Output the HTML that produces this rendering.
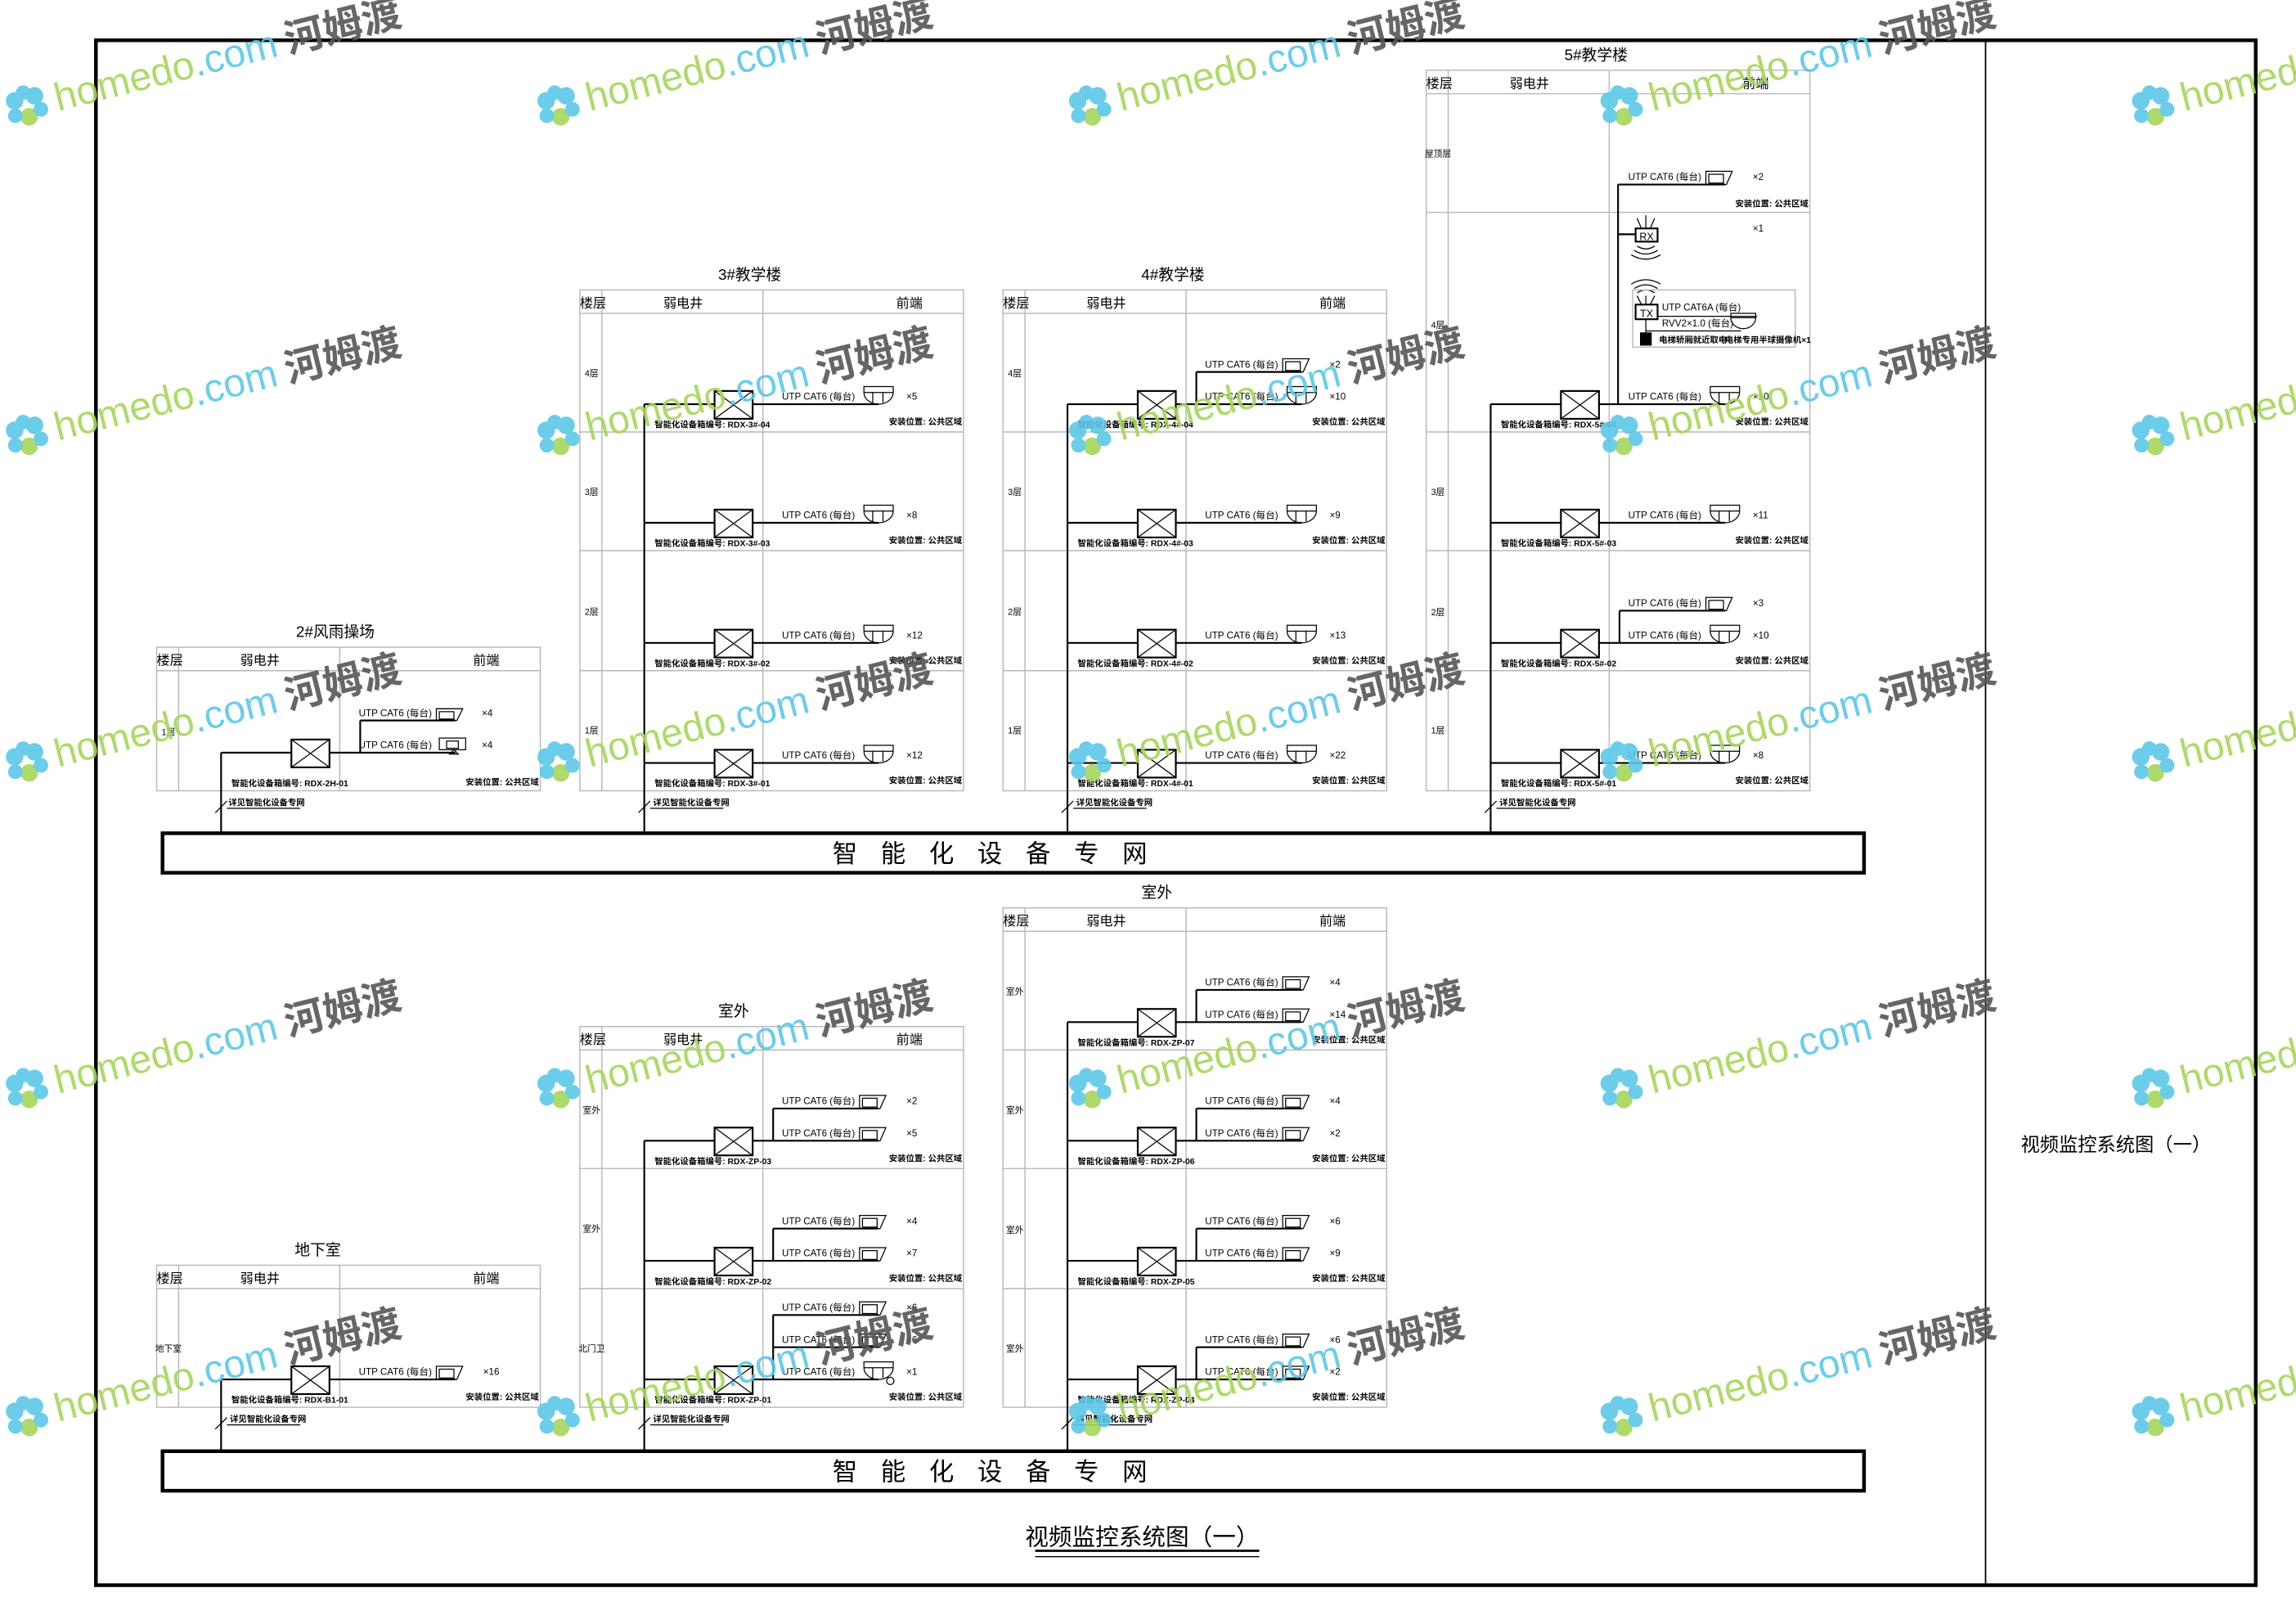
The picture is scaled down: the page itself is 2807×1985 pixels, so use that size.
<!DOCTYPE html>
<html><head><meta charset="utf-8"><style>
html,body{margin:0;padding:0;background:#fff}
svg{display:block}
text{font-family:"Liberation Sans","Noto Sans CJK SC",sans-serif;fill:#000}
.t{stroke:#b8b8b8;stroke-width:0.8;fill:none}
.l{stroke:#000;stroke-width:1.2;fill:none}
.th{stroke:#000;stroke-width:0.7;fill:none}
.bx{stroke:#000;stroke-width:1.2;fill:#fff}
.u{font-size:6.5px}
.s{font-size:5.8px;font-weight:bold}
.h{font-size:9px}
.f{font-size:6px;text-anchor:middle}
.ti{font-size:10.5px;text-anchor:middle}
.wm{font-size:27px}
.g1{fill:#a5d65a}.g2{fill:#5bc8e8}.g3{fill:#555;font-weight:bold;font-family:"Noto Sans CJK SC",sans-serif}
</style></head><body>
<svg width="2807" height="1985" viewBox="0 0 1568 1109" preserveAspectRatio="none" xmlns="http://www.w3.org/2000/svg">
<defs>
<g id="fl"><circle cx="-7" cy="-5" r="6" fill="#5bc8e8"/><circle cx="7" cy="-5" r="6" fill="#5bc8e8"/><circle cx="0" cy="8" r="6" fill="#a5d65a"/><circle cx="-9" cy="5" r="5" fill="#5bc8e8"/><circle cx="9" cy="5" r="5" fill="#5bc8e8"/><circle cx="0" cy="-9" r="5" fill="#5bc8e8"/></g>
</defs>
<rect x="0" y="0" width="1568" height="1109" fill="#fff"/>
<rect x="65.5" y="27.5" width="1475" height="1055" fill="none" stroke="#000" stroke-width="2.5"/>
<line x1="1356" y1="28" x2="1356" y2="1082" stroke="#000" stroke-width="1"/>
<text x="1445" y="786" font-size="13" text-anchor="middle">视频监控系统图（一）</text>

<rect x="111" y="569" width="1162" height="27" fill="none" stroke="#000" stroke-width="2.5"/>
<text x="684" y="589" font-size="17" text-anchor="middle" letter-spacing="16">智能化设备专网</text>
<rect x="111" y="991" width="1162" height="27" fill="none" stroke="#000" stroke-width="2.5"/>
<text x="684" y="1011" font-size="17" text-anchor="middle" letter-spacing="16">智能化设备专网</text>
<text x="780" y="1055" font-size="16" text-anchor="middle">视频监控系统图（一）</text>
<line x1="707" y1="1059" x2="860" y2="1059" stroke="#000" stroke-width="1.5"/>
<line x1="707" y1="1063" x2="860" y2="1063" stroke="#000" stroke-width="0.8"/>

<!-- 2# -->
<g transform="translate(107,442)">
<text class="ti" x="122" y="-7">2#风雨操场</text>
<rect class="t" x="0" y="0" width="262" height="98"/><path class="t" d="M0,16H262M15,0V98M125,0V98"/>
<text class="h" x="0" y="12">楼层</text><text class="h" x="57" y="12">弱电井</text><text class="h" x="216" y="12">前端</text>
<text class="f" x="8" y="60">1层</text>
</g>
<path class="l" d="M151,514V569"/>
<path class="th" d="M147,555L155,547M155,552H205"/><text class="s" x="156" y="550">详见智能化设备专网</text>
<g transform="translate(107,540)">
<path class="l" d="M44,-26H92M118,-26H139M139,-48V-26H204M139,-48H204"/>
<rect class="bx" x="92" y="-35" width="26" height="19"/><path class="th" d="M92,-35L118,-16M118,-35L92,-16"/>
<text class="s" x="51" y="-3">智能化设备箱编号: RDX-2H-01</text>
<text class="s" x="261" y="-4" text-anchor="end">安装位置: 公共区域</text>
<text class="u" x="138" y="-51">UTP CAT6 (每台)</text><path class="th" d="M191,-56h18l-4,8h-14zM193,-54h10v5h-10z"/><text class="u" x="222" y="-51">×4</text>
<text class="u" x="138" y="-29">UTP CAT6 (每台)</text><path class="th" d="M193,-36h18v8h-18zM198,-34h8v5h-8zM200,-25l3,-3l3,3z"/><text class="u" x="222" y="-29">×4</text>
</g>

<!-- 3# -->
<g transform="translate(396,198)">
<text class="ti" x="116" y="-7">3#教学楼</text>
<rect class="t" x="0" y="0" width="262" height="342"/><path class="t" d="M0,16H262M15,0V342M125,0V342M0,97H262M0,178H262M0,260H262"/>
<text class="h" x="0" y="12">楼层</text><text class="h" x="57" y="12">弱电井</text><text class="h" x="216" y="12">前端</text>
<text class="f" x="8" y="59">4层</text><text class="f" x="8" y="140">3层</text><text class="f" x="8" y="222">2层</text><text class="f" x="8" y="303">1层</text>
</g>
<path class="l" d="M440,276V569"/>
<path class="th" d="M436,555L444,547M444,552H494"/><text class="s" x="446" y="550">详见智能化设备专网</text>
<g transform="translate(396,295)">
<path class="l" d="M44,-19H92M118,-19H204"/><rect class="bx" x="92" y="-28" width="26" height="19"/><path class="th" d="M92,-28L118,-9M118,-28L92,-9"/>
<text class="s" x="51" y="-3">智能化设备箱编号: RDX-3#-04</text><text class="s" x="261" y="-5" text-anchor="end">安装位置: 公共区域</text>
<text class="u" x="138" y="-22">UTP CAT6 (每台)</text><path class="th" d="M194,-31h20v4h-20zM194,-27a10,8 0 0 0 20,0M200,-27v7M207,-27v7"/><text class="u" x="223" y="-22">×5</text>
</g>
<g transform="translate(396,376)">
<path class="l" d="M44,-19H92M118,-19H204"/><rect class="bx" x="92" y="-28" width="26" height="19"/><path class="th" d="M92,-28L118,-9M118,-28L92,-9"/>
<text class="s" x="51" y="-3">智能化设备箱编号: RDX-3#-03</text><text class="s" x="261" y="-5" text-anchor="end">安装位置: 公共区域</text>
<text class="u" x="138" y="-22">UTP CAT6 (每台)</text><path class="th" d="M194,-31h20v4h-20zM194,-27a10,8 0 0 0 20,0M200,-27v7M207,-27v7"/><text class="u" x="223" y="-22">×8</text>
</g>
<g transform="translate(396,458)">
<path class="l" d="M44,-19H92M118,-19H204"/><rect class="bx" x="92" y="-28" width="26" height="19"/><path class="th" d="M92,-28L118,-9M118,-28L92,-9"/>
<text class="s" x="51" y="-3">智能化设备箱编号: RDX-3#-02</text><text class="s" x="261" y="-5" text-anchor="end">安装位置: 公共区域</text>
<text class="u" x="138" y="-22">UTP CAT6 (每台)</text><path class="th" d="M194,-31h20v4h-20zM194,-27a10,8 0 0 0 20,0M200,-27v7M207,-27v7"/><text class="u" x="223" y="-22">×12</text>
</g>
<g transform="translate(396,540)">
<path class="l" d="M44,-19H92M118,-19H204"/><rect class="bx" x="92" y="-28" width="26" height="19"/><path class="th" d="M92,-28L118,-9M118,-28L92,-9"/>
<text class="s" x="51" y="-3">智能化设备箱编号: RDX-3#-01</text><text class="s" x="261" y="-5" text-anchor="end">安装位置: 公共区域</text>
<text class="u" x="138" y="-22">UTP CAT6 (每台)</text><path class="th" d="M194,-31h20v4h-20zM194,-27a10,8 0 0 0 20,0M200,-27v7M207,-27v7"/><text class="u" x="223" y="-22">×12</text>
</g>

<!-- 4# -->
<g transform="translate(685,198)">
<text class="ti" x="116" y="-7">4#教学楼</text>
<rect class="t" x="0" y="0" width="262" height="342"/><path class="t" d="M0,16H262M15,0V342M125,0V342M0,97H262M0,178H262M0,260H262"/>
<text class="h" x="0" y="12">楼层</text><text class="h" x="57" y="12">弱电井</text><text class="h" x="216" y="12">前端</text>
<text class="f" x="8" y="59">4层</text><text class="f" x="8" y="140">3层</text><text class="f" x="8" y="222">2层</text><text class="f" x="8" y="303">1层</text>
</g>
<path class="l" d="M729,276V569"/>
<path class="th" d="M725,555L733,547M733,552H783"/><text class="s" x="735" y="550">详见智能化设备专网</text>
<g transform="translate(685,295)">
<path class="l" d="M44,-19H92M118,-19H132M132,-41V-19H204M132,-41H204"/><rect class="bx" x="92" y="-28" width="26" height="19"/><path class="th" d="M92,-28L118,-9M118,-28L92,-9"/>
<text class="s" x="51" y="-3">智能化设备箱编号: RDX-4#-04</text><text class="s" x="261" y="-5" text-anchor="end">安装位置: 公共区域</text>
<text class="u" x="138" y="-44">UTP CAT6 (每台)</text><path class="th" d="M191,-50h18l-4,9h-14zM193,-48h10v6h-10z"/><text class="u" x="223" y="-44">×2</text>
<text class="u" x="138" y="-22">UTP CAT6 (每台)</text><path class="th" d="M194,-31h20v4h-20zM194,-27a10,8 0 0 0 20,0M200,-27v7M207,-27v7"/><text class="u" x="223" y="-22">×10</text>
</g>
<g transform="translate(685,376)">
<path class="l" d="M44,-19H92M118,-19H204"/><rect class="bx" x="92" y="-28" width="26" height="19"/><path class="th" d="M92,-28L118,-9M118,-28L92,-9"/>
<text class="s" x="51" y="-3">智能化设备箱编号: RDX-4#-03</text><text class="s" x="261" y="-5" text-anchor="end">安装位置: 公共区域</text>
<text class="u" x="138" y="-22">UTP CAT6 (每台)</text><path class="th" d="M194,-31h20v4h-20zM194,-27a10,8 0 0 0 20,0M200,-27v7M207,-27v7"/><text class="u" x="223" y="-22">×9</text>
</g>
<g transform="translate(685,458)">
<path class="l" d="M44,-19H92M118,-19H204"/><rect class="bx" x="92" y="-28" width="26" height="19"/><path class="th" d="M92,-28L118,-9M118,-28L92,-9"/>
<text class="s" x="51" y="-3">智能化设备箱编号: RDX-4#-02</text><text class="s" x="261" y="-5" text-anchor="end">安装位置: 公共区域</text>
<text class="u" x="138" y="-22">UTP CAT6 (每台)</text><path class="th" d="M194,-31h20v4h-20zM194,-27a10,8 0 0 0 20,0M200,-27v7M207,-27v7"/><text class="u" x="223" y="-22">×13</text>
</g>
<g transform="translate(685,540)">
<path class="l" d="M44,-19H92M118,-19H204"/><rect class="bx" x="92" y="-28" width="26" height="19"/><path class="th" d="M92,-28L118,-9M118,-28L92,-9"/>
<text class="s" x="51" y="-3">智能化设备箱编号: RDX-4#-01</text><text class="s" x="261" y="-5" text-anchor="end">安装位置: 公共区域</text>
<text class="u" x="138" y="-22">UTP CAT6 (每台)</text><path class="th" d="M194,-31h20v4h-20zM194,-27a10,8 0 0 0 20,0M200,-27v7M207,-27v7"/><text class="u" x="223" y="-22">×22</text>
</g>

<!-- 5# -->
<g transform="translate(974,48)">
<text class="ti" x="116" y="-7">5#教学楼</text>
<rect class="t" x="0" y="0" width="262" height="492"/><path class="t" d="M0,16H262M15,0V492M125,0V492M0,97H262M0,247H262M0,328H262M0,410H262"/>
<text class="h" x="0" y="12">楼层</text><text class="h" x="57" y="12">弱电井</text><text class="h" x="216" y="12">前端</text>
<text class="f" x="8" y="59">屋顶层</text><text class="f" x="8" y="176">4层</text><text class="f" x="8" y="290">3层</text><text class="f" x="8" y="372">2层</text><text class="f" x="8" y="453">1层</text>
</g>
<path class="l" d="M1018,276V569"/>
<path class="th" d="M1014,555L1022,547M1022,552H1072"/><text class="s" x="1024" y="550">详见智能化设备专网</text>
<g transform="translate(974,0)">
<path class="l" d="M131,126V276M131,126H204M131,160H143"/>
<text class="u" x="138" y="123">UTP CAT6 (每台)</text><path class="th" d="M191,117h18l-4,9h-14zM193,119h10v6h-10z"/><text class="u" x="223" y="123">×2</text>
<text class="s" x="261" y="141" text-anchor="end">安装位置: 公共区域</text>
<rect class="bx" x="143" y="156" width="15" height="9"/><text x="150.5" y="164" font-size="7" text-anchor="middle">RX</text>
<path class="th" d="M150,156V147M147,156L144,149M153,156L156,149"/>
<path class="th" d="M144,168q6,4 12,0M142,171q8,5 16,0M140,174q10,6 20,0"/>
<path class="th" d="M144,200q6,-4 12,0M142,197q8,-5 16,0M140,194q10,-6 20,0"/>
<rect class="t" x="141" y="198" width="111" height="39"/>
<rect class="bx" x="143" y="208" width="15" height="10"/><text x="150.5" y="216.5" font-size="7" text-anchor="middle">TX</text>
<path class="th" d="M150,208V202M147,208L144,202M153,208L156,202"/>
<path class="th" d="M158,216H226M150,218V226H215M150,226V232M208,214h17v3h-17zM208,217a8,7 0 0 0 17,0"/>
<rect x="146" y="227" width="8" height="9" fill="#000"/>
<text class="u" x="161" y="212">UTP CAT6A (每台)</text>
<text class="u" x="161" y="223">RVV2×1.0 (每台)</text>
<text class="s" x="159" y="234">电梯轿厢就近取电</text>
<text class="s" x="204" y="234">电梯专用半球摄像机×1</text>
<text class="u" x="223" y="158">×1</text>
</g>
<g transform="translate(974,295)">
<path class="l" d="M44,-19H92M118,-19H204"/><rect class="bx" x="92" y="-28" width="26" height="19"/><path class="th" d="M92,-28L118,-9M118,-28L92,-9"/>
<text class="s" x="51" y="-3">智能化设备箱编号: RDX-5#-04</text><text class="s" x="261" y="-5" text-anchor="end">安装位置: 公共区域</text>
<text class="u" x="138" y="-22">UTP CAT6 (每台)</text><path class="th" d="M194,-31h20v4h-20zM194,-27a10,8 0 0 0 20,0M200,-27v7M207,-27v7"/><text class="u" x="223" y="-22">×10</text>
</g>
<g transform="translate(974,376)">
<path class="l" d="M44,-19H92M118,-19H204"/><rect class="bx" x="92" y="-28" width="26" height="19"/><path class="th" d="M92,-28L118,-9M118,-28L92,-9"/>
<text class="s" x="51" y="-3">智能化设备箱编号: RDX-5#-03</text><text class="s" x="261" y="-5" text-anchor="end">安装位置: 公共区域</text>
<text class="u" x="138" y="-22">UTP CAT6 (每台)</text><path class="th" d="M194,-31h20v4h-20zM194,-27a10,8 0 0 0 20,0M200,-27v7M207,-27v7"/><text class="u" x="223" y="-22">×11</text>
</g>
<g transform="translate(974,458)">
<path class="l" d="M44,-19H92M118,-19H132M132,-41V-19H204M132,-41H204"/><rect class="bx" x="92" y="-28" width="26" height="19"/><path class="th" d="M92,-28L118,-9M118,-28L92,-9"/>
<text class="s" x="51" y="-3">智能化设备箱编号: RDX-5#-02</text><text class="s" x="261" y="-5" text-anchor="end">安装位置: 公共区域</text>
<text class="u" x="138" y="-44">UTP CAT6 (每台)</text><path class="th" d="M191,-50h18l-4,9h-14zM193,-48h10v6h-10z"/><text class="u" x="223" y="-44">×3</text>
<text class="u" x="138" y="-22">UTP CAT6 (每台)</text><path class="th" d="M194,-31h20v4h-20zM194,-27a10,8 0 0 0 20,0M200,-27v7M207,-27v7"/><text class="u" x="223" y="-22">×10</text>
</g>
<g transform="translate(974,540)">
<path class="l" d="M44,-19H92M118,-19H204"/><rect class="bx" x="92" y="-28" width="26" height="19"/><path class="th" d="M92,-28L118,-9M118,-28L92,-9"/>
<text class="s" x="51" y="-3">智能化设备箱编号: RDX-5#-01</text><text class="s" x="261" y="-5" text-anchor="end">安装位置: 公共区域</text>
<text class="u" x="138" y="-22">UTP CAT6 (每台)</text><path class="th" d="M194,-31h20v4h-20zM194,-27a10,8 0 0 0 20,0M200,-27v7M207,-27v7"/><text class="u" x="223" y="-22">×8</text>
</g>

<!-- 室外 right -->
<g transform="translate(685,620)">
<text class="ti" x="105" y="-7">室外</text>
<rect class="t" x="0" y="0" width="262" height="341"/><path class="t" d="M0,16H262M15,0V341M125,0V341M0,97H262M0,178H262M0,260H262"/>
<text class="h" x="0" y="12">楼层</text><text class="h" x="57" y="12">弱电井</text><text class="h" x="216" y="12">前端</text>
<text class="f" x="8" y="59">室外</text><text class="f" x="8" y="140">室外</text><text class="f" x="8" y="222">室外</text><text class="f" x="8" y="303">室外</text>
</g>
<path class="l" d="M729,698V991"/>
<path class="th" d="M725,976L733,968M733,973H783"/><text class="s" x="735" y="971">详见智能化设备专网</text>
<g transform="translate(685,717)">
<path class="l" d="M44,-19H92M118,-19H132M132,-41V-19H204M132,-41H204"/><rect class="bx" x="92" y="-28" width="26" height="19"/><path class="th" d="M92,-28L118,-9M118,-28L92,-9"/>
<text class="s" x="51" y="-3">智能化设备箱编号: RDX-ZP-07</text><text class="s" x="261" y="-5" text-anchor="end">安装位置: 公共区域</text>
<text class="u" x="138" y="-44">UTP CAT6 (每台)</text><path class="th" d="M191,-50h18l-4,9h-14zM193,-48h10v6h-10z"/><text class="u" x="223" y="-44">×4</text>
<text class="u" x="138" y="-22">UTP CAT6 (每台)</text><path class="th" d="M191,-28h18l-4,9h-14zM193,-26h10v6h-10z"/><text class="u" x="223" y="-22">×14</text>
</g>
<g transform="translate(685,798)">
<path class="l" d="M44,-19H92M118,-19H132M132,-41V-19H204M132,-41H204"/><rect class="bx" x="92" y="-28" width="26" height="19"/><path class="th" d="M92,-28L118,-9M118,-28L92,-9"/>
<text class="s" x="51" y="-3">智能化设备箱编号: RDX-ZP-06</text><text class="s" x="261" y="-5" text-anchor="end">安装位置: 公共区域</text>
<text class="u" x="138" y="-44">UTP CAT6 (每台)</text><path class="th" d="M191,-50h18l-4,9h-14zM193,-48h10v6h-10z"/><text class="u" x="223" y="-44">×4</text>
<text class="u" x="138" y="-22">UTP CAT6 (每台)</text><path class="th" d="M191,-28h18l-4,9h-14zM193,-26h10v6h-10z"/><text class="u" x="223" y="-22">×2</text>
</g>
<g transform="translate(685,880)">
<path class="l" d="M44,-19H92M118,-19H132M132,-41V-19H204M132,-41H204"/><rect class="bx" x="92" y="-28" width="26" height="19"/><path class="th" d="M92,-28L118,-9M118,-28L92,-9"/>
<text class="s" x="51" y="-3">智能化设备箱编号: RDX-ZP-05</text><text class="s" x="261" y="-5" text-anchor="end">安装位置: 公共区域</text>
<text class="u" x="138" y="-44">UTP CAT6 (每台)</text><path class="th" d="M191,-50h18l-4,9h-14zM193,-48h10v6h-10z"/><text class="u" x="223" y="-44">×6</text>
<text class="u" x="138" y="-22">UTP CAT6 (每台)</text><path class="th" d="M191,-28h18l-4,9h-14zM193,-26h10v6h-10z"/><text class="u" x="223" y="-22">×9</text>
</g>
<g transform="translate(685,961)">
<path class="l" d="M44,-19H92M118,-19H132M132,-41V-19H204M132,-41H204"/><rect class="bx" x="92" y="-28" width="26" height="19"/><path class="th" d="M92,-28L118,-9M118,-28L92,-9"/>
<text class="s" x="51" y="-3">智能化设备箱编号: RDX-ZP-04</text><text class="s" x="261" y="-5" text-anchor="end">安装位置: 公共区域</text>
<text class="u" x="138" y="-44">UTP CAT6 (每台)</text><path class="th" d="M191,-50h18l-4,9h-14zM193,-48h10v6h-10z"/><text class="u" x="223" y="-44">×6</text>
<text class="u" x="138" y="-22">UTP CAT6 (每台)</text><path class="th" d="M191,-28h18l-4,9h-14zM193,-26h10v6h-10z"/><text class="u" x="223" y="-22">×2</text>
</g>

<!-- 室外 left -->
<g transform="translate(396,701)">
<text class="ti" x="105" y="-7">室外</text>
<rect class="t" x="0" y="0" width="262" height="260"/><path class="t" d="M0,16H262M15,0V260M125,0V260M0,97H262M0,179H262"/>
<text class="h" x="0" y="12">楼层</text><text class="h" x="57" y="12">弱电井</text><text class="h" x="216" y="12">前端</text>
<text class="f" x="8" y="59">室外</text><text class="f" x="8" y="140">室外</text><text class="f" x="8" y="222">北门卫</text>
</g>
<path class="l" d="M440,779V991"/>
<path class="th" d="M436,976L444,968M444,973H494"/><text class="s" x="446" y="971">详见智能化设备专网</text>
<g transform="translate(396,798)">
<path class="l" d="M44,-19H92M118,-19H132M132,-41V-19H204M132,-41H204"/><rect class="bx" x="92" y="-28" width="26" height="19"/><path class="th" d="M92,-28L118,-9M118,-28L92,-9"/>
<text class="s" x="51" y="-3">智能化设备箱编号: RDX-ZP-03</text><text class="s" x="261" y="-5" text-anchor="end">安装位置: 公共区域</text>
<text class="u" x="138" y="-44">UTP CAT6 (每台)</text><path class="th" d="M191,-50h18l-4,9h-14zM193,-48h10v6h-10z"/><text class="u" x="223" y="-44">×2</text>
<text class="u" x="138" y="-22">UTP CAT6 (每台)</text><path class="th" d="M191,-28h18l-4,9h-14zM193,-26h10v6h-10z"/><text class="u" x="223" y="-22">×5</text>
</g>
<g transform="translate(396,880)">
<path class="l" d="M44,-19H92M118,-19H132M132,-41V-19H204M132,-41H204"/><rect class="bx" x="92" y="-28" width="26" height="19"/><path class="th" d="M92,-28L118,-9M118,-28L92,-9"/>
<text class="s" x="51" y="-3">智能化设备箱编号: RDX-ZP-02</text><text class="s" x="261" y="-5" text-anchor="end">安装位置: 公共区域</text>
<text class="u" x="138" y="-44">UTP CAT6 (每台)</text><path class="th" d="M191,-50h18l-4,9h-14zM193,-48h10v6h-10z"/><text class="u" x="223" y="-44">×4</text>
<text class="u" x="138" y="-22">UTP CAT6 (每台)</text><path class="th" d="M191,-28h18l-4,9h-14zM193,-26h10v6h-10z"/><text class="u" x="223" y="-22">×7</text>
</g>
<g transform="translate(396,961)">
<path class="l" d="M44,-19H92M118,-19H132M132,-63V-19H204M132,-41H204M132,-63H204"/><rect class="bx" x="92" y="-28" width="26" height="19"/><path class="th" d="M92,-28L118,-9M118,-28L92,-9"/>
<text class="s" x="51" y="-3">智能化设备箱编号: RDX-ZP-01</text><text class="s" x="261" y="-5" text-anchor="end">安装位置: 公共区域</text>
<text class="u" x="138" y="-66">UTP CAT6 (每台)</text><path class="th" d="M191,-72h18l-4,9h-14zM193,-70h10v6h-10z"/><text class="u" x="223" y="-66">×6</text>
<text class="u" x="138" y="-44">UTP CAT6 (每台)</text><path class="th" d="M191,-50h18l-4,9h-14zM193,-48h10v6h-10z"/><text class="u" x="223" y="-44">×6</text>
<text class="u" x="138" y="-22">UTP CAT6 (每台)</text><path class="th" d="M194,-31h20v4h-20zM194,-27a10,8 0 0 0 20,0M200,-27v7M207,-27v7"/><circle class="th" cx="212" cy="-18" r="2.5"/><text class="u" x="223" y="-22">×1</text>
</g>

<!-- 地下室 -->
<g transform="translate(107,864)">
<text class="ti" x="110" y="-7">地下室</text>
<rect class="t" x="0" y="0" width="262" height="97"/><path class="t" d="M0,16H262M15,0V97M125,0V97"/>
<text class="h" x="0" y="12">楼层</text><text class="h" x="57" y="12">弱电井</text><text class="h" x="216" y="12">前端</text>
<text class="f" x="8" y="59">地下室</text>
</g>
<path class="l" d="M151,942V991"/>
<path class="th" d="M147,976L155,968M155,973H205"/><text class="s" x="157" y="971">详见智能化设备专网</text>
<g transform="translate(107,961)">
<path class="l" d="M44,-19H92M118,-19H204"/><rect class="bx" x="92" y="-28" width="26" height="19"/><path class="th" d="M92,-28L118,-9M118,-28L92,-9"/>
<text class="s" x="51" y="-3">智能化设备箱编号: RDX-B1-01</text><text class="s" x="261" y="-5" text-anchor="end">安装位置: 公共区域</text>
<text class="u" x="138" y="-22">UTP CAT6 (每台)</text><path class="th" d="M191,-28h18l-4,9h-14zM193,-26h10v6h-10z"/><text class="u" x="223" y="-22">×16</text>
</g>

<!-- watermarks -->
<g opacity="0.9">
<g transform="translate(18,72) rotate(-14)"><use href="#fl"/><text class="wm" x="20" y="9"><tspan class="g1">homedo</tspan><tspan class="g2">.com</tspan><tspan class="g3"> 河姆渡</tspan></text></g>
<g transform="translate(381,72) rotate(-14)"><use href="#fl"/><text class="wm" x="20" y="9"><tspan class="g1">homedo</tspan><tspan class="g2">.com</tspan><tspan class="g3"> 河姆渡</tspan></text></g>
<g transform="translate(744,72) rotate(-14)"><use href="#fl"/><text class="wm" x="20" y="9"><tspan class="g1">homedo</tspan><tspan class="g2">.com</tspan><tspan class="g3"> 河姆渡</tspan></text></g>
<g transform="translate(1107,72) rotate(-14)"><use href="#fl"/><text class="wm" x="20" y="9"><tspan class="g1">homedo</tspan><tspan class="g2">.com</tspan><tspan class="g3"> 河姆渡</tspan></text></g>
<g transform="translate(1470,72) rotate(-14)"><use href="#fl"/><text class="wm" x="20" y="9"><tspan class="g1">homedo</tspan><tspan class="g2">.com</tspan></text></g>

<g transform="translate(18,297) rotate(-14)"><use href="#fl"/><text class="wm" x="20" y="9"><tspan class="g1">homedo</tspan><tspan class="g2">.com</tspan><tspan class="g3"> 河姆渡</tspan></text></g>
<g transform="translate(381,297) rotate(-14)"><use href="#fl"/><text class="wm" x="20" y="9"><tspan class="g1">homedo</tspan><tspan class="g2">.com</tspan><tspan class="g3"> 河姆渡</tspan></text></g>
<g transform="translate(744,297) rotate(-14)"><use href="#fl"/><text class="wm" x="20" y="9"><tspan class="g1">homedo</tspan><tspan class="g2">.com</tspan><tspan class="g3"> 河姆渡</tspan></text></g>
<g transform="translate(1107,297) rotate(-14)"><use href="#fl"/><text class="wm" x="20" y="9"><tspan class="g1">homedo</tspan><tspan class="g2">.com</tspan><tspan class="g3"> 河姆渡</tspan></text></g>
<g transform="translate(1470,297) rotate(-14)"><use href="#fl"/><text class="wm" x="20" y="9"><tspan class="g1">homedo</tspan><tspan class="g2">.com</tspan></text></g>

<g transform="translate(18,520) rotate(-14)"><use href="#fl"/><text class="wm" x="20" y="9"><tspan class="g1">homedo</tspan><tspan class="g2">.com</tspan><tspan class="g3"> 河姆渡</tspan></text></g>
<g transform="translate(381,520) rotate(-14)"><use href="#fl"/><text class="wm" x="20" y="9"><tspan class="g1">homedo</tspan><tspan class="g2">.com</tspan><tspan class="g3"> 河姆渡</tspan></text></g>
<g transform="translate(744,520) rotate(-14)"><use href="#fl"/><text class="wm" x="20" y="9"><tspan class="g1">homedo</tspan><tspan class="g2">.com</tspan><tspan class="g3"> 河姆渡</tspan></text></g>
<g transform="translate(1107,520) rotate(-14)"><use href="#fl"/><text class="wm" x="20" y="9"><tspan class="g1">homedo</tspan><tspan class="g2">.com</tspan><tspan class="g3"> 河姆渡</tspan></text></g>
<g transform="translate(1470,520) rotate(-14)"><use href="#fl"/><text class="wm" x="20" y="9"><tspan class="g1">homedo</tspan><tspan class="g2">.com</tspan></text></g>

<g transform="translate(18,743) rotate(-14)"><use href="#fl"/><text class="wm" x="20" y="9"><tspan class="g1">homedo</tspan><tspan class="g2">.com</tspan><tspan class="g3"> 河姆渡</tspan></text></g>
<g transform="translate(381,743) rotate(-14)"><use href="#fl"/><text class="wm" x="20" y="9"><tspan class="g1">homedo</tspan><tspan class="g2">.com</tspan><tspan class="g3"> 河姆渡</tspan></text></g>
<g transform="translate(744,743) rotate(-14)"><use href="#fl"/><text class="wm" x="20" y="9"><tspan class="g1">homedo</tspan><tspan class="g2">.com</tspan><tspan class="g3"> 河姆渡</tspan></text></g>
<g transform="translate(1107,743) rotate(-14)"><use href="#fl"/><text class="wm" x="20" y="9"><tspan class="g1">homedo</tspan><tspan class="g2">.com</tspan><tspan class="g3"> 河姆渡</tspan></text></g>
<g transform="translate(1470,743) rotate(-14)"><use href="#fl"/><text class="wm" x="20" y="9"><tspan class="g1">homedo</tspan><tspan class="g2">.com</tspan></text></g>

<g transform="translate(18,967) rotate(-14)"><use href="#fl"/><text class="wm" x="20" y="9"><tspan class="g1">homedo</tspan><tspan class="g2">.com</tspan><tspan class="g3"> 河姆渡</tspan></text></g>
<g transform="translate(381,967) rotate(-14)"><use href="#fl"/><text class="wm" x="20" y="9"><tspan class="g1">homedo</tspan><tspan class="g2">.com</tspan><tspan class="g3"> 河姆渡</tspan></text></g>
<g transform="translate(744,967) rotate(-14)"><use href="#fl"/><text class="wm" x="20" y="9"><tspan class="g1">homedo</tspan><tspan class="g2">.com</tspan><tspan class="g3"> 河姆渡</tspan></text></g>
<g transform="translate(1107,967) rotate(-14)"><use href="#fl"/><text class="wm" x="20" y="9"><tspan class="g1">homedo</tspan><tspan class="g2">.com</tspan><tspan class="g3"> 河姆渡</tspan></text></g>
<g transform="translate(1470,967) rotate(-14)"><use href="#fl"/><text class="wm" x="20" y="9"><tspan class="g1">homedo</tspan><tspan class="g2">.com</tspan></text></g>
</g>
</svg>
</body></html>
